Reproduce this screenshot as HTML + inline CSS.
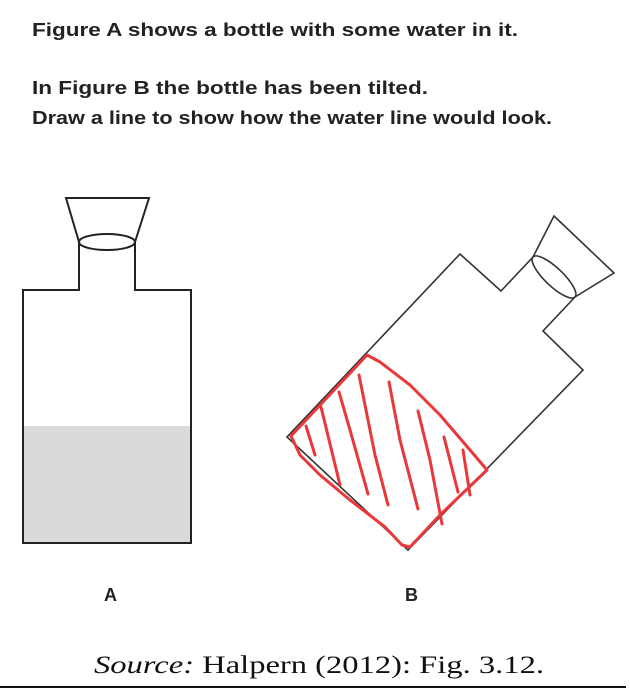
<!DOCTYPE html>
<html><head><meta charset="utf-8"><style>html,body{margin:0;padding:0;background:#fff;width:630px;height:689px;overflow:hidden}</style></head>
<body>
<svg width="630" height="689" xmlns="http://www.w3.org/2000/svg">
<g font-family="Liberation Sans, sans-serif" font-weight="bold" font-size="18" fill="#222">
<text x="32" y="36" textLength="486" lengthAdjust="spacingAndGlyphs">Figure A shows a bottle with some water in it.</text>
<text x="32" y="94" textLength="396" lengthAdjust="spacingAndGlyphs">In Figure B the bottle has been tilted.</text>
<text x="32" y="124" textLength="520" lengthAdjust="spacingAndGlyphs">Draw a line to show how the water line would look.</text>
<text x="104" y="601" font-size="18">A</text>
<text x="405" y="601" font-size="18">B</text>
</g>
<!-- Bottle A -->
<rect x="24" y="426" width="166" height="117" fill="#d9dadc"/>
<path d="M79 242 V290 H23 V543 H191 V290 H135 V242" fill="none" stroke="#222" stroke-width="2"/>
<path d="M79 242 L66 198 H149 L135 242" fill="none" stroke="#222" stroke-width="2"/>
<ellipse cx="107" cy="242" rx="28" ry="8" fill="none" stroke="#222" stroke-width="2"/>
<!-- Bottle B -->
<path d="M533 257 L501 291 L460 254 L287 437 L408 550 L583 370 L543 331 L575 297" fill="none" stroke="#333" stroke-width="1.6"/>
<path d="M533 257 L554 216 L614 273 L575 297" fill="none" stroke="#333" stroke-width="1.6"/>
<ellipse cx="554" cy="277" rx="29" ry="9" transform="rotate(43.6 554 277)" fill="none" stroke="#333" stroke-width="1.6"/>
<!-- Red drawing -->
<g fill="none" stroke="#e8383a" stroke-width="3" stroke-linecap="round" stroke-linejoin="round">
<path d="M291 436 L367 355 L380 362 L410 385 L440 415 L470 450 L487 470 L440 515 L410 547 L402 545 L385 527 L350 500 L320 475 L300 455 Z"/>
<path d="M306 426 L315 455"/>
<path d="M321 407 L340 485"/>
<path d="M339 392 L350 430 L368 494"/>
<path d="M359 375 L375 455 L388 505"/>
<path d="M389 382 L400 440 L418 509"/>
<path d="M418 411 L430 460 L442 524"/>
<path d="M444 437 L458 492"/>
<path d="M463 450 L470 495"/>
</g>
<!-- Source -->
<text x="94" y="673" font-family="Liberation Serif, serif" font-size="25" fill="#111" textLength="450" lengthAdjust="spacingAndGlyphs"><tspan font-style="italic">Source:</tspan> Halpern (2012): Fig. 3.12.</text>
<line x1="0" y1="687" x2="626" y2="687" stroke="#111" stroke-width="2"/>
</svg>
</body></html>
